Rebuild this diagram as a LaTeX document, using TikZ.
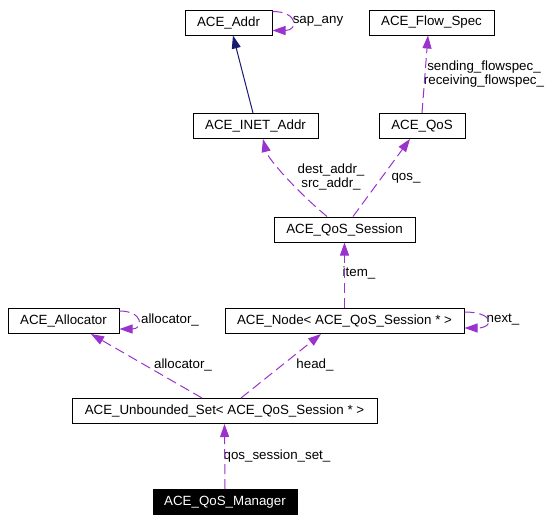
\documentclass[tikz,border=0pt]{standalone}
\usepackage{fontspec}
\setmainfont{Liberation Sans}
\usetikzlibrary{arrows.meta,calc}
\definecolor{edgepurple}{HTML}{9A32CD}
\definecolor{edgenavy}{HTML}{191970}
\begin{document}
\begin{tikzpicture}[x=0.75pt,y=-0.75pt,
    cls/.style={draw,line width=0.75pt,minimum height=18.75pt,minimum width=#1*0.75pt,
        inner sep=0pt,font=\fontsize{10}{12}\selectfont},
    lbl/.style={inner sep=0pt,align=center,font=\fontsize{10}{11}\selectfont},
    member/.style={edgepurple,line width=0.75pt,dash pattern=on 7.5pt off 3.75pt,
        -{Triangle[length=9.75pt,width=6.75pt]}},
    inherit/.style={edgenavy,line width=0.75pt,-{Triangle[length=9.75pt,width=6.75pt]}}]
    \useasboundingbox (0,0) rectangle (559,522);
    % classes
    \node[cls=87] (addr) at (228.5,22.5) {ACE\_Addr};
    \node[cls=125] (flow) at (431.5,22.5) {ACE\_Flow\_Spec};
    \node[cls=125] (inet) at (255.5,126) {ACE\_INET\_Addr};
    \node[cls=86] (qos) at (422,126) {ACE\_QoS};
    \node[cls=141] (sess) at (344.5,229.5) {ACE\_QoS\_Session};
    \node[cls=111] (alloc) at (63.5,321) {ACE\_Allocator};
    \node[cls=239] (node) at (344.5,321) {ACE\_Node< ACE\_QoS\_Session * >};
    \node[cls=305] (uset) at (224.5,411) {ACE\_Unbounded\_Set< ACE\_QoS\_Session * >};
    \node[cls=144,fill=black,text=white] (mgr) at (225,502) {ACE\_QoS\_Manager};
    % labels
    \node[lbl] (sapany) at (318,21) {sap\_any};
    \node[lbl] (flowlbl) at (484,74) {sending\_flowspec\_\\receiving\_flowspec\_};
    \node[lbl] (addrlbl) at (331,177) {dest\_addr\_\\src\_addr\_};
    \node[lbl] (qoslbl) at (406,178) {qos\_};
    \node[lbl] (itemlbl) at (359,273) {item\_};
    \node[lbl] (nextlbl) at (503,320) {next\_};
    \node[lbl] (allocself) at (170,320) {allocator\_};
    \node[lbl] (alloclbl) at (183,365) {allocator\_};
    \node[lbl] (headlbl) at (315,365) {head\_};
    \node[lbl] (setlbl) at (277,456) {qos\_session\_set\_};
    % connectors
    \draw[inherit] ($(inet.north)+(-2.5,0)$) -- ($(addr.south)+(4.5,0)$);
    \draw[member] ($(addr.north east)+(0,2)$) .. controls +(26,0) and +(26,0) .. ($(addr.south east)+(0,-5)$);
    \draw[member] (qos.north) -- ($(flow.south)+(-3.5,0)$);
    \draw[member] ($(sess.north)+(-17.5,0)$) .. controls +(-30,-25) and +(5,20) .. ($(inet.south)+(7.5,0)$);
    \draw[member] ($(sess.north)+(8.5,0)$) -- ($(qos.south)+(-12,0)$);
    \draw[member] (node.north) -- (sess.south);
    \draw[member] ($(node.north east)+(0,4)$) .. controls +(30,0) and +(30,0) .. ($(node.south east)+(0,-6)$);
    \draw[member] ($(alloc.north east)+(0,3)$) .. controls +(24,0) and +(24,0) .. ($(alloc.south east)+(0,-5)$);
    \draw[member] ($(uset.north)+(-22.5,0)$) -- ($(alloc.south)+(27.5,0)$);
    \draw[member] ($(uset.north)+(16.5,0)$) -- ($(node.south)+(-23.5,0)$);
    \draw[member] (mgr.north) -- (uset.south);
\end{tikzpicture}
\end{document}
